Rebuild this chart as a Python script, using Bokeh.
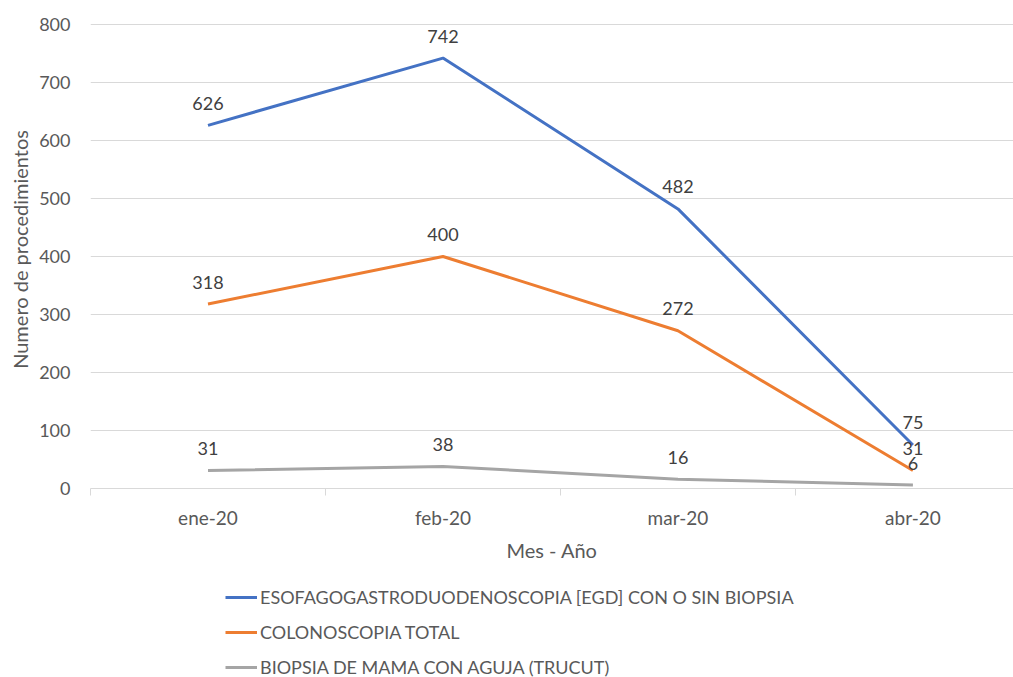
from bokeh.plotting import figure
from bokeh.layouts import column
from bokeh.core.properties import value
from bokeh.models import (ColumnDataSource, LabelSet, Legend, LegendItem, FixedTicker,
                          Range1d)
from bokeh.embed import file_html
from bokeh.resources import INLINE

meses = ["ene-20", "feb-20", "mar-20", "abr-20"]
egd = [626, 742, 482, 75]
colono = [318, 400, 272, 31]
biopsia = [31, 38, 16, 6]
series_names = ["ESOFAGOGASTRODUODENOSCOPIA [EGD] CON O SIN BIOPSIA",
                "COLONOSCOPIA TOTAL",
                "BIOPSIA DE MAMA CON AGUJA (TRUCUT)"]
colors = ["#4472C4", "#ED7D31", "#A5A5A5"]
y_ticks = [0, 100, 200, 300, 400, 500, 600, 700, 800]

FONT = "Lato"
TXT = "#595959"
xs = [i + 0.5 for i in range(len(meses))]
series = [egd, colono, biopsia]

# ---- chart ----
p = figure(width=1013, height=563, output_backend="svg", toolbar_location=None,
           x_range=Range1d(0, 3.928), y_range=Range1d(0, 824))
p.frame_height = 478
p.min_border_left = 90
p.min_border_right = 0
p.min_border_top = 10
p.min_border_bottom = 0
p.outline_line_color = None

p.xgrid.grid_line_color = None
p.ygrid.grid_line_color = "#D9D9D9"

p.yaxis.ticker = FixedTicker(ticks=y_ticks)
p.yaxis.axis_line_color = None
p.yaxis.major_tick_line_color = None
p.yaxis.minor_tick_line_color = None
p.yaxis.major_label_text_font = FONT
p.yaxis.major_label_text_font_size = "18px"
p.yaxis.major_label_text_color = TXT
p.yaxis.major_label_standoff = 14
p.yaxis.axis_label = "Numero de procedimientos"
p.yaxis.axis_label_text_font = FONT
p.yaxis.axis_label_text_font_size = "20px"
p.yaxis.axis_label_text_font_style = "normal"
p.yaxis.axis_label_text_color = TXT
p.yaxis.axis_label_standoff = 4

p.xaxis.ticker = FixedTicker(ticks=xs, minor_ticks=list(range(len(meses) + 1)))
p.xaxis.major_label_overrides = {x: m for x, m in zip(xs, meses)}
p.xaxis.axis_line_color = "#D9D9D9"
p.xaxis.major_tick_line_color = None
p.xaxis.minor_tick_line_color = "#D9D9D9"
p.xaxis.minor_tick_out = 7
p.xaxis.minor_tick_in = 0
p.xaxis.major_label_text_font = FONT
p.xaxis.major_label_text_font_size = "19px"
p.xaxis.major_label_text_color = TXT
p.xaxis.major_label_standoff = 10
p.xaxis.axis_label = "Mes - Año"
p.xaxis.axis_label_text_font = FONT
p.xaxis.axis_label_text_font_size = "20px"
p.xaxis.axis_label_text_font_style = "normal"
p.xaxis.axis_label_text_color = TXT
p.xaxis.axis_label_standoff = 6

for vals, col in zip(series, colors):
    src = ColumnDataSource(dict(x=xs, y=vals, t=[str(v) for v in vals]))
    p.line("x", "y", source=src, line_color=col, line_width=3)
    p.add_layout(LabelSet(x="x", y="y", text="t", source=src, text_align="center",
                          text_baseline="middle", y_offset=22,
                          text_font=value(FONT), text_font_size="18px",
                          text_color="#404040"))

# ---- legend panel ----
lg = figure(width=1013, height=114, output_backend="svg", toolbar_location=None,
            x_range=Range1d(0, 1), y_range=Range1d(-2000, -1000),
            x_axis_location=None, y_axis_location=None)
lg.min_border = 0
lg.outline_line_color = None
lg.grid.visible = False
items = []
for name, vals, col in zip(series_names, series, colors):
    r = lg.line(x=xs, y=vals, line_color=col, line_width=3)
    items.append(LegendItem(label=name, renderers=[r]))
legend = Legend(items=items, location=(135, 0), orientation="vertical",
                label_text_font=FONT, label_text_font_size="18px",
                label_text_color=TXT, glyph_width=32, glyph_height=20,
                label_height=20, spacing=13, padding=0, margin=0,
                border_line_color=None, background_fill_alpha=0,
                label_standoff=3)
lg.add_layout(legend, "center")

layout = column(p, lg, spacing=0)
open("out.html", "w").write(file_html(layout, INLINE))
